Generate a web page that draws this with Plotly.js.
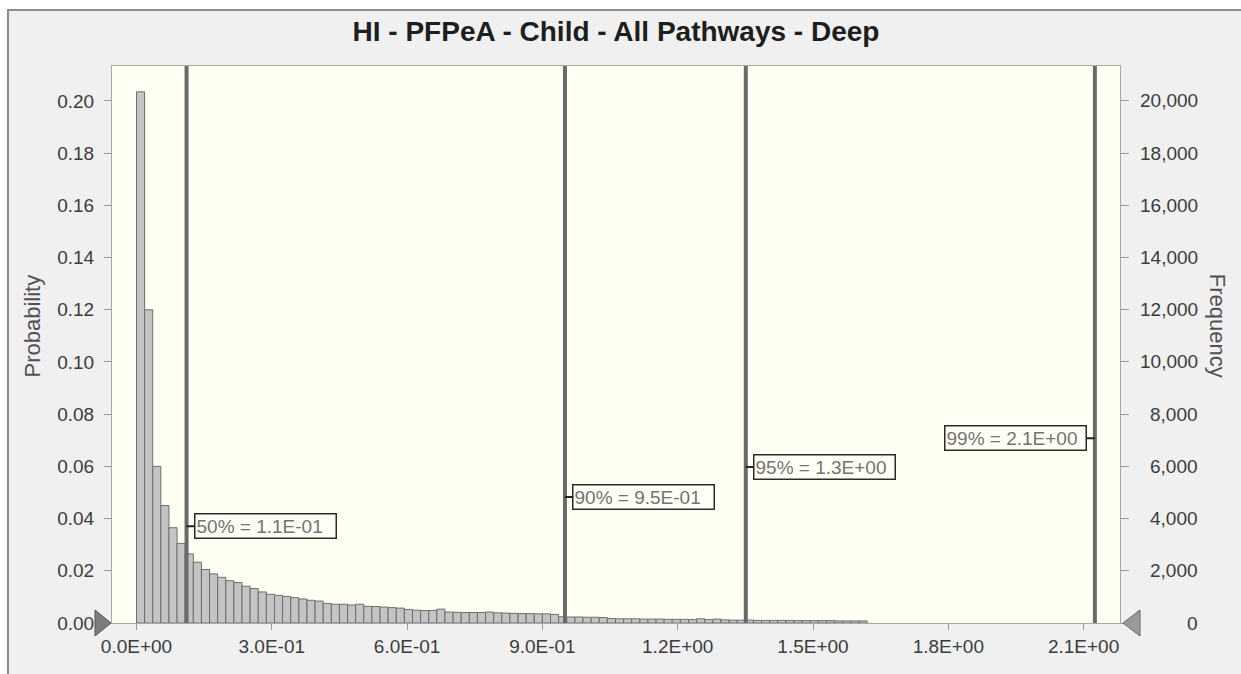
<!DOCTYPE html>
<html>
<head>
<meta charset="utf-8">
<script src="https://cdn.plot.ly/plotly-3.0.1.min.js"></script>
<style>
  html, body { margin: 0; padding: 0; background: #ffffff; width: 1241px; height: 674px; overflow: hidden; }
  #bg { position: absolute; left: 7px; top: 9px; width: 1234px; height: 665px; background: #f0f0f0;
        border-left: 2px solid #8c8c8c; border-top: 2px solid #8c8c8c; box-sizing: border-box; }
  #chart { position: absolute; left: 0; top: 0; width: 1241px; height: 674px; }
</style>
</head>
<body>
<div id="bg"></div>
<div id="chart"></div>
<script>
// ---- data ----
const chartTitle = 'HI - PFPeA - Child - All Pathways - Deep';
const binStart = 0;
const binWidth = 0.018;
const trials = 100000;
const probability = [
  0.2035, 0.1200, 0.0600, 0.0450, 0.0365, 0.0305, 0.0265, 0.0233, 0.0205, 0.0188,
  0.0175, 0.0162, 0.0155, 0.0141, 0.0132, 0.0119, 0.0110, 0.0106, 0.0102, 0.0097,
  0.0092, 0.0087, 0.0084, 0.0075, 0.0072, 0.0072, 0.0069, 0.0072, 0.0064, 0.0063,
  0.0061, 0.0059, 0.0057, 0.0052, 0.0049, 0.0048, 0.0048, 0.0053, 0.0042, 0.0041,
  0.0040, 0.0040, 0.0040, 0.0042, 0.0039, 0.0038, 0.0037, 0.0036, 0.0036, 0.0035,
  0.0035, 0.0033, 0.0024, 0.0023, 0.0023, 0.0022, 0.0022, 0.0021, 0.0017, 0.0016,
  0.0016, 0.0016, 0.0015, 0.0015, 0.0015, 0.0014, 0.0014, 0.0014, 0.0013, 0.0016,
  0.0013, 0.0015, 0.0012, 0.0011, 0.0011, 0.0011, 0.0010, 0.0010, 0.0010, 0.0010,
  0.0010, 0.0009, 0.0009, 0.0009, 0.0009, 0.0009, 0.0008, 0.0008, 0.0008, 0.0008
];
const percentileNames = ['50%', '90%', '95%', '99%'];
const percentileValues = [0.111, 0.950, 1.351, 2.125];
const percentileText = ['1.1E-01', '9.5E-01', '1.3E+00', '2.1E+00'];
const labelProbability = [0.0371, 0.0483, 0.0598, 0.0708];
const labelSide = [1, 1, 1, -1];
const xTickVals = [0, 0.3, 0.6, 0.9, 1.2, 1.5, 1.8, 2.1];
const xTickText = ['0.0E+00', '3.0E-01', '6.0E-01', '9.0E-01', '1.2E+00', '1.5E+00', '1.8E+00', '2.1E+00'];
const probTicks = [0, 0.02, 0.04, 0.06, 0.08, 0.10, 0.12, 0.14, 0.16, 0.18, 0.20];
const freqTicks = [0, 2000, 4000, 6000, 8000, 10000, 12000, 14000, 16000, 18000, 20000];
const xRange = [-0.0543, 2.1807];
const probRange = [0, 0.2134];

// ---- build ----
const FONT = 'Liberation Sans, Arial, sans-serif';
const binCenters = probability.map((_, i) => binStart + binWidth * (i + 0.5));
const frequency = probability.map(p => p * trials);

const traces = [
  {
    type: 'bar', x: binCenters, y: probability, width: binWidth,
    marker: { color: '#c4c4c4', line: { color: '#6e6e6e', width: 1 } },
    hoverinfo: 'skip', showlegend: false, xaxis: 'x', yaxis: 'y'
  },
  {
    type: 'scatter', mode: 'lines', x: binCenters, y: frequency,
    line: { width: 1, color: 'rgba(0,0,0,0)' }, opacity: 0,
    hoverinfo: 'skip', showlegend: false, xaxis: 'x', yaxis: 'y2'
  }
];

const shapes = percentileValues.map(v => ({
  type: 'line', xref: 'x', yref: 'paper', x0: v, x1: v, y0: 0, y1: 1,
  line: { color: '#6a6a6a', width: 4 }, layer: 'above'
}));
shapes.push({
  type: 'path', xref: 'paper', yref: 'paper', xsizemode: 'pixel', ysizemode: 'pixel',
  xanchor: 0, yanchor: 0, path: 'M -17,-13 L -1,0 L -17,13 Z',
  fillcolor: '#7c7c7c', line: { color: '#555555', width: 1 }, layer: 'above'
});
shapes.push({
  type: 'path', xref: 'paper', yref: 'paper', xsizemode: 'pixel', ysizemode: 'pixel',
  xanchor: 1, yanchor: 0, path: 'M 20,-13 L 3,0 L 20,13 Z',
  fillcolor: '#9a9a9a', line: { color: '#666666', width: 1 }, layer: 'above'
});

const annotations = percentileValues.map((v, i) => ({
  x: v, y: labelProbability[i], xref: 'x', yref: 'y',
  text: percentileNames[i] + ' = ' + percentileText[i],
  showarrow: true, arrowhead: 0, arrowwidth: 2, arrowcolor: '#222222', standoff: 0,
  ax: labelSide[i] * 79, ay: 0,
  font: { family: FONT, size: 19, color: '#737373' },
  bgcolor: '#fffff6', bordercolor: '#2a2a2a', borderwidth: 1.5, borderpad: 1,
  width: 138, align: 'left'
}));
freqTicks.forEach(v => annotations.push({
  x: 1.0794, y: v, xref: 'paper', yref: 'y2', xanchor: 'right', yanchor: 'middle',
  text: v.toLocaleString('en-US'), showarrow: false,
  font: { family: FONT, size: 19, color: '#3c3c3c' }
}));
annotations.push({
  x: -0.0784, y: 0.534, xref: 'paper', yref: 'paper', xanchor: 'center', yanchor: 'middle',
  text: 'Probability', textangle: -90, showarrow: false,
  font: { family: FONT, size: 22, color: '#505050' }
});
annotations.push({
  x: 1.097, y: 0.534, xref: 'paper', yref: 'paper', xanchor: 'center', yanchor: 'middle',
  text: 'Frequency', textangle: 90, showarrow: false,
  font: { family: FONT, size: 22, color: '#505050' }
});

const layout = {
  width: 1241, height: 674,
  margin: { l: 112, r: 121, t: 66, b: 51, pad: 0 },
  paper_bgcolor: 'rgba(0,0,0,0)', plot_bgcolor: '#fffff4',
  font: { family: FONT, size: 19, color: '#3c3c3c' },
  title: {
    text: '<b>' + chartTitle + '</b>', x: 0.5, xref: 'paper', xanchor: 'center',
    y: 0.954, yref: 'container', yanchor: 'middle',
    font: { family: FONT, size: 28, color: '#1e1e1e' }
  },
  showlegend: false,
  bargap: 0,
  xaxis: {
    range: xRange, tickvals: xTickVals, ticktext: xTickText,
    ticks: 'outside', ticklen: 6, tickcolor: '#9a9a9a', tickwidth: 1,
    showline: true, linecolor: '#a8a8a8', linewidth: 1, mirror: true,
    showgrid: false, zeroline: false, fixedrange: true,
    tickfont: { family: FONT, size: 19, color: '#3c3c3c' }
  },
  yaxis: {
    range: probRange, tickvals: probTicks, tickformat: '.2f',
    ticks: 'outside', ticklen: 7, tickcolor: '#9a9a9a', tickwidth: 1, ticklabelstandoff: 6,
    showline: true, linecolor: '#a8a8a8', linewidth: 1, mirror: true,
    showgrid: false, zeroline: false, fixedrange: true,
    tickfont: { family: FONT, size: 19, color: '#3c3c3c' }
  },
  yaxis2: {
    overlaying: 'y', side: 'right', range: probRange.map(p => p * trials), tickvals: freqTicks,
    ticks: 'outside', ticklen: 8, tickcolor: '#9a9a9a', tickwidth: 1,
    showticklabels: false, showline: false, showgrid: false, zeroline: false, fixedrange: true
  },
  shapes: shapes,
  annotations: annotations
};

Plotly.newPlot('chart', traces, layout, { displayModeBar: false, staticPlot: true });
</script>
</body>
</html>
